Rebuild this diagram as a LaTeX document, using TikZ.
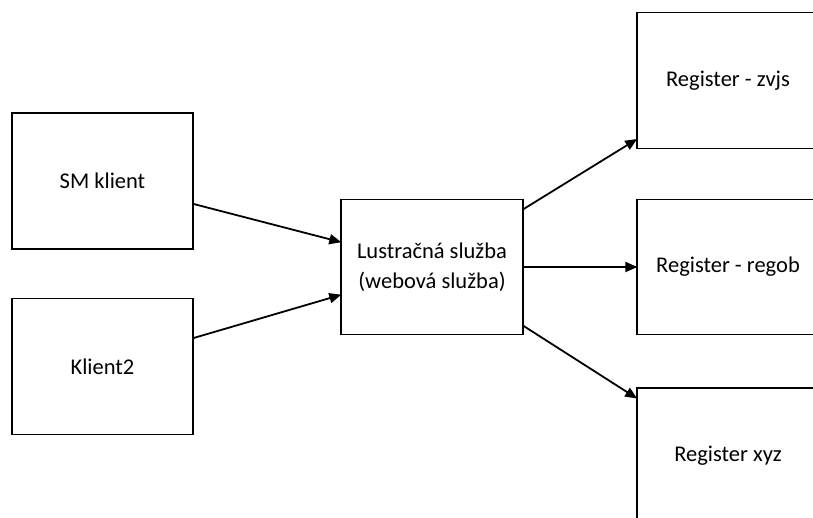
\documentclass[tikz,border=0pt]{standalone}
\usepackage{fontspec}
\setmainfont{Carlito}
\usetikzlibrary{arrows.meta}
\begin{document}
\begin{tikzpicture}[x=1pt,y=-1pt,
  blk/.style={draw=black, line width=1.3pt, minimum width=181pt, minimum height=136pt, inner sep=0pt, align=center,
    font=\fontsize{22.5}{30}\selectfont},
  conn/.style={draw=black, line width=1.8pt, -{Triangle[length=12pt,width=10pt]}, shorten >=-1pt}]
\useasboundingbox (0,0) rectangle (813,518);
\clip (0,0) rectangle (813,518);
\fill[white] (0,0) rectangle (813,518);
\node[blk] (sm) at (102.5,181) {SM klient};
\node[blk] (k2) at (102.5,366.5) {Klient2};
\node[blk, minimum height=135pt, minimum width=182pt] (lus) at (432,267) {Lustračná služba\\(webová služba)};
\node[blk, minimum width=182pt] (zvjs) at (728,80.5) {Register - zvjs};
\node[blk, minimum width=182pt, minimum height=135pt] (regob) at (728,267) {Register - regob};
\node[blk, minimum width=182pt] (xyz) at (728,456) {Register xyz};
\draw[conn] ([yshift=-23pt]sm.east) -- ([yshift=25pt]lus.west);
\draw[conn] ([yshift=28.5pt]k2.east) -- ([yshift=-28pt]lus.west);
\draw[conn] ([yshift=58pt]lus.east) -- ([yshift=-59pt]zvjs.west);
\draw[conn] (lus.east) -- (regob.west);
\draw[conn] ([yshift=-59pt]lus.east) -- ([yshift=58pt]xyz.west);
\end{tikzpicture}
\end{document}
